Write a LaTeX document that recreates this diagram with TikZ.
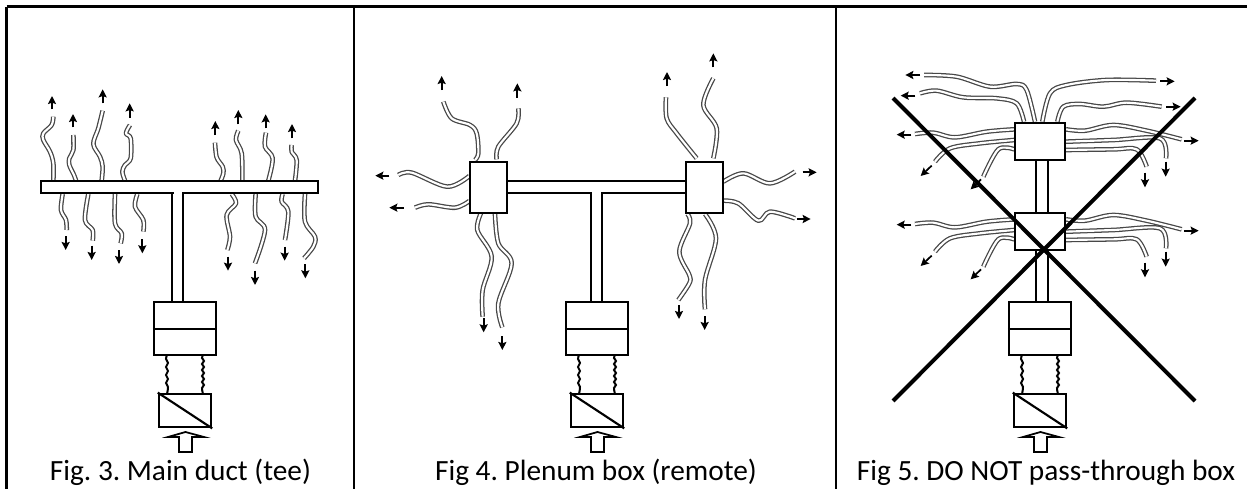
\documentclass[tikz,border=0pt]{standalone}
\usepackage{fontspec}
\setmainfont{Carlito}
\usetikzlibrary{arrows.meta}
\tikzset{
  outl/.style={draw=black,line width=1.8pt,fill=white,line join=miter},
  rule/.style={draw=black,line width=1.6pt},
  pipe/.style={draw=black,line width=1.6pt},
  flow/.style={draw=black,line width=1.3pt,-{Stealth[length=6pt,width=6pt,inset=1pt]}},
  caption/.style={font=\fontsize{22}{26}\selectfont\frenchspacing,text=black,inner sep=0pt,anchor=base},
  crossbar/.style={draw=black,line width=3pt},
}
% a flexible duct: dark outer stroke, white core
\newcommand{\flexd}[1]{%
  \draw[line width=3.5pt,draw=black!72,line cap=butt,line join=round] plot[smooth,tension=.55] coordinates {#1};
  \draw[line width=1.6pt,draw=white,line cap=butt,line join=round] plot[smooth,tension=.55] coordinates {#1};
}
\newcommand{\duct}[3]{\flexd{#1}\draw[flow] #2 -- #3;}
% air handling unit, offset given in pixels
\newcommand{\unit}[2]{%
  \begin{scope}[shift={(#1,0)}]
    \draw[line width=1.5pt] plot[smooth,tension=.6] coordinates {(167,355)(166,359)(168,363)(166,367)(168,371)(166,375)(168,379)(166,383)(168,387)(167,394)};
    \draw[line width=1.5pt] plot[smooth,tension=.6] coordinates {(203,355)(202,358)(204,361)(202,364)(204,367)(202,370)(204,373)(202,376)(204,379)(202,382)(204,385)(202,388)(203,394)};
    \node[outl,minimum width=46.5pt,minimum height=40pt,inner sep=0pt] (plen#2) at (185,328.5) {};
    \draw[draw=black,line width=1.5pt] ([yshift=-0.375pt]plen#2.west) -- ([yshift=-0.375pt]plen#2.east);
    \node[outl,minimum width=39pt,minimum height=25pt,inner sep=0pt] (fan#2) at (185,410.5) {};
    \draw[pipe] (fan#2.north west) -- (fan#2.south east);
    \draw[draw=black,line width=1.3pt,fill=white,line join=miter] (179,452) -- (192,452) -- (192,437) -- (204,437) -- (185.5,432) -- (168,437) -- (179,437) -- cycle;
  \end{scope}}
\begin{document}
\begin{tikzpicture}[x=0.75pt,y=-0.75pt]
\useasboundingbox (0,0) rectangle (1247,489);

% table rules
\coordinate (tl) at (6.5,6.5); \coordinate (tr) at (1247,6.5);
\coordinate (bl) at (6.5,489);
\coordinate (m1t) at (354,6.5); \coordinate (m1b) at (354,489);
\coordinate (m2t) at (836,6.5); \coordinate (m2b) at (836,489);
\draw[rule] (tl) -- (tr);
\draw[rule] (tl) -- (bl);
\draw[rule] (m1t) -- (m1b);
\draw[rule] (m2t) -- (m2b);

% ---------- Fig 3
\unit{0}{A}
\begin{scope}[shift={(0,70)},x=0.25pt,y=-0.25pt]
\duct{(160,332)(160,280)(150,245)(130,210)(130,190)(155,165)(160,140)}{(156,118)}{(156,78)}
\duct{(228,332)(222,315)(208,285)(208,265)(220,240)(220,195)}{(219,172)}{(219,132)}
\duct{(305,332)(308,290)(300,260)(280,222)(295,175)(308,122)}{(308,100)}{(308,58)}
\duct{(375,332)(367,305)(375,285)(392,265)(392,205)(378,190)(390,165)}{(389,143)}{(389,100)}
\duct{(662,332)(670,310)(668,290)(650,262)(645,218)}{(646,195)}{(646,153)}
\duct{(727,332)(725,250)(708,210)(715,182)}{(715,163)}{(715,120)}
\duct{(805,332)(818,265)(795,230)(798,188)}{(797,175)}{(797,133)}
\duct{(885,332)(890,270)(875,245)(875,225)}{(876,205)}{(876,162)}
\duct{(188,372)(183,420)(198,450)(200,480)}{(197,498)}{(197,540)}
\duct{(265,372)(255,450)(278,480)(278,512)}{(275,527)}{(275,570)}
\duct{(345,372)(345,460)(365,490)(362,520)}{(357,540)}{(357,582)}
\duct{(412,372)(405,410)(430,450)(430,485)}{(427,508)}{(427,550)}
\duct{(695,372)(708,400)(680,435)(690,500)(682,540)}{(684,560)}{(684,602)}
\duct{(767,372)(767,440)(795,480)(765,580)}{(765,602)}{(765,645)}
\duct{(848,372)(845,395)(865,425)(855,510)}{(854,530)}{(854,572)}
\duct{(915,372)(915,455)(945,500)(940,530)(912,565)}{(916,583)}{(916,625)}
\end{scope}
\node[outl,minimum width=207.5pt,minimum height=9pt,inner sep=0pt] (trunkA) at (179.5,187) {};
\draw[draw=white,line width=6pt] (177.5,187) -- (177.5,194);
\draw[pipe] (172,192) -- (172,302);
\draw[pipe] (183,192) -- (183,302);
\node[caption] (capA) at (180.5,480) {Fig. 3. Main duct (tee)};

% ---------- Fig 4
\unit{412}{B}
\begin{scope}[shift={(360,40)},x=0.25pt,y=-0.25pt]
\duct{(345,360)(355,340)(350,280)(330,255)(275,235)(250,185)}{(245,150)}{(245,108)}
\duct{(410,358)(415,320)(470,250)(475,205)}{(472,173)}{(472,130)}
\duct{(115,405)(155,398)(262,440)(328,408)}{(88,407)}{(46,407)}
\duct{(165,503)(205,493)(285,503)(328,483)}{(131,503)}{(88,503)}
\duct{(1010,355)(950,280)(920,235)(918,172)}{(921,138)}{(921,96)}
\duct{(1060,355)(1070,265)(1030,195)(1060,115)}{(1060,82)}{(1060,40)}
\duct{(1090,425)(1150,400)(1230,430)(1305,395)}{(1328,397)}{(1370,397)}
\duct{(1090,482)(1135,490)(1195,542)(1230,515)(1305,535)}{(1310,537)}{(1352,537)}
\end{scope}
\begin{scope}[shift={(440,200)},x=0.25pt,y=-0.25pt]
\duct{(125,35)(112,90)(155,170)(128,270)(128,350)}{(131,355)}{(131,397)}
\duct{(165,42)(175,130)(215,190)(175,310)(187,382)}{(187,408)}{(187,450)}
\duct{(742,42)(750,70)(718,155)(748,225)(748,250)(715,300)}{(717,315)}{(717,357)}
\duct{(795,42)(828,115)(795,240)(795,328)}{(794,348)}{(794,390)}
\end{scope}
\draw[pipe] (507,181) -- (686,181);
\draw[pipe] (507,193) -- (591,193) -- (591,302);
\draw[pipe] (686,193) -- (602,193) -- (602,302);
\node[outl,minimum width=27.75pt,minimum height=38.25pt,inner sep=0pt] (boxBl) at (488.5,187.5) {};
\node[outl,minimum width=27.75pt,minimum height=38.25pt,inner sep=0pt] (boxBr) at (704.5,187.5) {};
\node[caption] (capB) at (596,480) {Fig 4. Plenum box (remote)};

% ---------- Fig 5
\unit{855}{C}
\foreach \dy in {0,90}{
\begin{scope}[shift={(880,60+\dy)},x=0.25pt,y=-0.25pt]
\duct{(403,208)(320,215)(225,232)(160,218)(105,222)}{(94,224)}{(50,224)}
\duct{(403,240)(300,250)(210,265)(165,305)}{(155,317)}{(122,348)}
\duct{(403,268)(355,268)(310,350)}{(303,358)}{(272,388)}
\duct{(558,208)(615,212)(700,195)(800,212)(905,238)}{(912,242)}{(956,242)}
\duct{(558,245)(700,240)(840,235)(858,295)}{(857,305)}{(857,350)}
\duct{(558,270)(700,268)(770,268)(800,320)}{(795,338)}{(795,382)}
\end{scope}}
\begin{scope}[shift={(880,60)},x=0.25pt,y=-0.25pt]
\duct{(465,185)(440,90)(410,72)(330,80)(230,50)(132,45)}{(120,45)}{(76,45)}
\duct{(432,185)(410,130)(350,115)(250,112)(170,92)(120,100)}{(106,107)}{(62,107)}
\duct{(487,185)(510,100)(560,75)(680,60)(828,62)}{(840,64)}{(884,64)}
\duct{(532,185)(550,140)(600,132)(670,140)(740,128)(845,140)}{(858,140)}{(902,140)}
\end{scope}
\draw[pipe] (1036,160) -- (1036,213);
\draw[pipe] (1048,160) -- (1048,213);
\draw[pipe] (1036,250) -- (1036,301);
\draw[pipe] (1048,250) -- (1048,301);
\node[outl,minimum width=37.5pt,minimum height=27.75pt,inner sep=0pt] (boxCt) at (1040,141.5) {};
\node[outl,minimum width=37.5pt,minimum height=27.75pt,inner sep=0pt] (boxCb) at (1040,231.5) {};
\coordinate (xa) at (893,98); \coordinate (xb) at (1195,401);
\coordinate (xc) at (1195,98); \coordinate (xd) at (893,401);
\draw[crossbar] (xa) -- (xb);
\draw[crossbar] (xc) -- (xd);
\node[caption] (capC) at (1046,480) {Fig 5. DO NOT pass-through box};
\end{tikzpicture}
\end{document}
